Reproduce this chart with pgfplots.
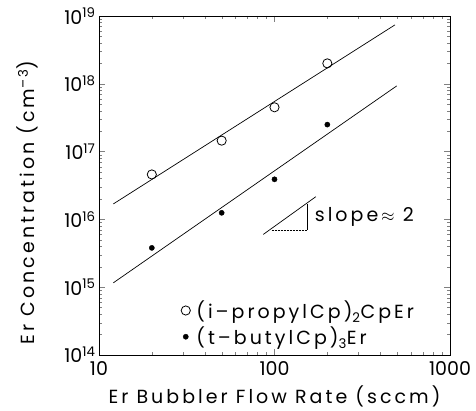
\documentclass[border=0pt]{standalone}
\usepackage{fontspec}
\setmainfont{Poppins}
\newfontfamily\spaced[LetterSpace=16]{Poppins}
\usepackage{pgfplots}
\pgfplotsset{compat=1.18}
\begin{document}
\begin{tikzpicture}
\begin{axis}[
  at={(0pt,0pt)}, anchor=south west,
  xmode=log, ymode=log,
  scale only axis, width=351pt, height=339pt,
  xmin=10, xmax=1000, ymin=1e14, ymax=1e19,
  xtick={10,100,1000}, xticklabels={10,100,1000},
  ytick={1e14,1e15,1e16,1e17,1e18,1e19},
  yticklabels={10\textsuperscript{14},10\textsuperscript{15},10\textsuperscript{16},10\textsuperscript{17},10\textsuperscript{18},10\textsuperscript{19}},
  tick align=inside, major tick length=6pt, minor tick length=3pt,
  xtick pos=both, ytick pos=both,
  tick label style={font=\fontsize{19}{22}\selectfont},
  x tick label style={yshift=-3pt},
  label style={font=\spaced\fontsize{19}{22}\selectfont},
  xlabel={Er Bubbler Flow Rate (sccm)},
  ylabel={Er Concentration (cm\textsuperscript{–3})},
  xlabel style={at={(axis description cs:0.5,0)}, anchor=base, yshift=-49pt},
  ylabel style={at={(axis description cs:-0.205,0.45)}, anchor=center},
  axis line style={line width=0.9pt},
  legend style={draw=none, fill=none, at={(0.225,0.172)}, anchor=north west,
    font=\spaced\fontsize{19}{22}\selectfont, row sep=3pt,
    /tikz/every odd column/.append style={column sep=4pt}},
  legend cell align=left,
]
% fitted lines
\addplot[black, line width=0.7pt, forget plot] coordinates {(12.07,1.69e16)(486,7.4e18)};
\addplot[black, line width=0.7pt, forget plot] coordinates {(12.07,1.16e15)(497,9.3e17)};
% data
\addplot[only marks, mark=o, mark size=4.6pt, mark options={line width=0.8pt}] coordinates {
(20,4.6e16)(50,1.45e17)(100,4.5e17)(200,2.0e18)};
\addlegendentry{(i–propylCp)\textsubscript{2}CpEr}
\addplot[only marks, mark=*, mark size=2.6pt] coordinates {
(20,3.8e15)(50,1.25e16)(100,3.9e16)(200,2.5e17)};
\addlegendentry{(t–butylCp)\textsubscript{3}Er}
% slope triangle
\draw[line width=0.7pt] (axis cs:86.3,6.0e15) -- (axis cs:172,2.16e16);
\draw[line width=0.7pt] (axis cs:153.8,1.69e16) -- (axis cs:153.8,6.98e15);
\draw[line width=0.5pt, densely dotted] (axis cs:96.4,6.98e15) -- (axis cs:153.8,6.98e15);
\node[anchor=west, font=\fontsize{19}{22}\selectfont] at (axis cs:162,1.08e16) {\spaced slope$\,\approx$ 2};
\end{axis}
\pgfresetboundingbox
\useasboundingbox (-99pt,-56pt) rectangle (377pt,355pt);
\end{tikzpicture}
\end{document}
